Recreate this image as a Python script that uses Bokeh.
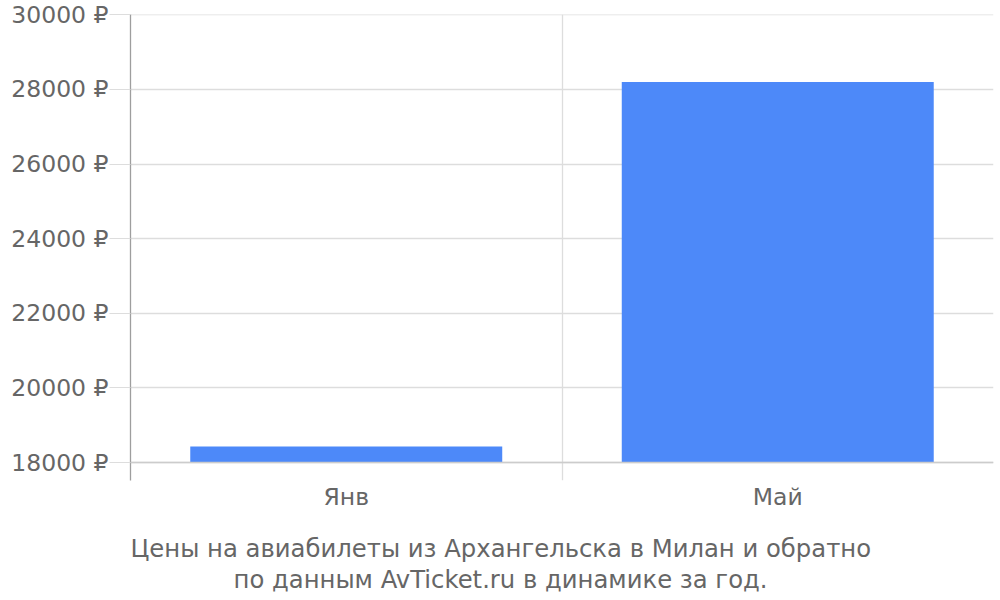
from bokeh.plotting import figure
from bokeh.models import FixedTicker, Span, Title, Range1d, ColumnDataSource
from bokeh.embed import file_html
from bokeh.resources import INLINE

months = ["Янв", "Май"]
month_pos = [0.5, 1.5]
prices = [18430, 28200]
y_ticks = [18000, 20000, 22000, 24000, 26000, 28000, 30000]
y_tick_labels = [f"{t} ₽" for t in y_ticks]
title_lines = ["Цены на авиабилеты из Архангельска в Милан и обратно",
               "по данным AvTicket.ru в динамике за год."]
title_offsets = [0, 103]
title_standoffs = [36, -32]
title_valign = ["bottom", "top"]

TEXT = "#666666"
GRID = "#dddddd"
FONT = "DejaVu Sans"

src = ColumnDataSource(dict(x=month_pos, top=prices, bottom=[y_ticks[0]] * len(prices)))

p = figure(width=996, height=600, output_backend="svg", toolbar_location=None,
           x_range=Range1d(0, 2.0), y_range=Range1d(17518, 30010),
           min_border_left=130, min_border_right=3, min_border_top=14, min_border_bottom=120)
p.outline_line_color = None
p.background_fill_color = "white"

p.vbar(x="x", top="top", bottom="bottom", width=0.723, source=src,
       fill_color="#4d89f9", line_color=None)

base = Span(location=y_ticks[0], dimension="width", line_color="#cccccc", line_width=1.6)
p.add_layout(base)

# y axis
p.yaxis.ticker = FixedTicker(ticks=y_ticks)
p.yaxis.major_label_overrides = {t: l for t, l in zip(y_ticks, y_tick_labels)}
p.yaxis.axis_line_color = "#9e9e9e"
p.yaxis.axis_line_width = 1.3
p.yaxis.major_tick_in = 0
p.yaxis.major_tick_out = 21
p.yaxis.major_tick_line_color = GRID
p.yaxis.minor_tick_line_color = None
p.yaxis.major_label_standoff = 1
p.yaxis.major_label_text_font = FONT
p.yaxis.major_label_text_font_size = "23.5px"
p.yaxis.major_label_text_color = TEXT

# x axis
p.xaxis.ticker = FixedTicker(ticks=month_pos)
p.xaxis.major_label_overrides = {pos: m for pos, m in zip(month_pos, months)}
p.xaxis.axis_line_color = None
p.xaxis.major_tick_line_color = None
p.xaxis.minor_tick_line_color = None
p.xaxis.major_label_standoff = -4
p.xaxis.major_label_text_font = FONT
p.xaxis.major_label_text_font_size = "23.5px"
p.xaxis.major_label_text_color = TEXT

# grids
p.xgrid.ticker = FixedTicker(ticks=[0, 1, 2])
p.xgrid.grid_line_color = GRID
p.xgrid.grid_line_width = 1.3
p.ygrid.ticker = FixedTicker(ticks=y_ticks)
p.ygrid.grid_line_color = GRID
p.ygrid.grid_line_width = 1.3

for line, off, so, va in zip(title_lines, title_offsets, title_standoffs, title_valign):
    p.add_layout(Title(text=line, align="left", offset=off, standoff=so, vertical_align=va,
                       text_font=FONT, text_font_size="24.3px", text_font_style="normal",
                       text_color=TEXT), "below")

open("out.html", "w").write(file_html(p, INLINE))
